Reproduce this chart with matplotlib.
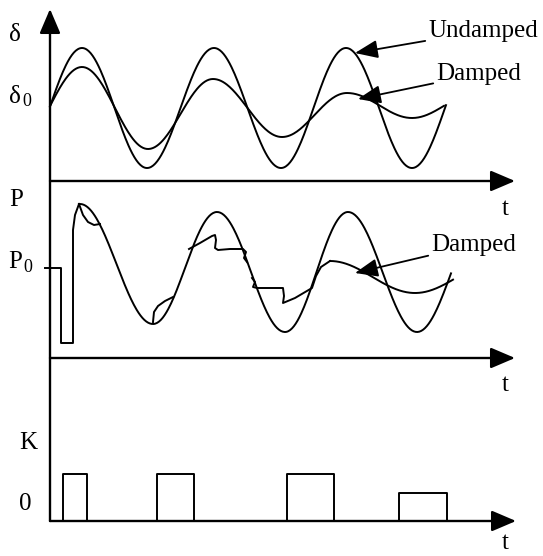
import numpy as np
import matplotlib
matplotlib.use("Agg")
import matplotlib.pyplot as plt

# schematic drawn in picture coordinates (x right, y down)
# extrema (x, y) of each oscillation; the curve is a half-cosine between neighbouring extrema
top_undamped_x = [82, 147, 214, 281, 346, 412]
top_undamped_y = [48, 168, 48, 168, 48, 168]
top_damped_x = [82, 148, 213, 282, 347, 412]
top_damped_y = [67, 149, 79, 137, 93, 118]
top_span = (50, 446)

mid_main_x = [80, 153, 217, 285, 348, 417]
mid_main_y = [204, 324, 212, 332, 212, 332]
mid_span = (80, 451)

# initial step of P (drop at the fault, jump after clearing)
step_x = [45, 61, 61, 73, 73, 75, 79]
step_y = [268, 268, 343, 343, 230, 215, 204]

# hand-drawn damped pieces of P
loop1_x = [79, 83, 88, 94, 100]
loop1_y = [204, 215, 222, 225, 224]
loop2_x = [153, 154, 158, 165, 173]
loop2_y = [322, 312, 306, 301, 297]
zig_x = [189, 200, 212, 215, 216, 215, 218, 230, 243, 246, 244, 247]
zig_y = [249, 243, 236, 235, 240, 248, 250, 249, 249, 252, 258, 262]
zig2_x = [252, 255, 253, 257, 270, 283, 284, 283, 295, 312, 316, 321, 330]
zig2_y = [278, 282, 287, 288, 288, 288, 296, 303, 298, 288, 276, 267, 261]
mid_damped_x = [330, 415]
mid_damped_y = [261, 293]
mid_damped_span = (330, 453)

# control pulses K
pulse_left = [63, 157, 287, 399]
pulse_right = [87, 194, 334, 447]
pulse_top = [474, 474, 474, 493]

axis_x = 50
axis_top = 9
baselines = [181, 358, 521]
arrow_end = [515, 515, 516]


def wave(xe, ye, x0, x1, n=400):
    xe = list(xe); ye = list(ye)
    # virtual extrema so the curve can start/end between extrema
    xe = [xe[0] - (xe[1] - xe[0])] + xe + [xe[-1] + (xe[-1] - xe[-2])]
    ye = [ye[1]] + ye + [ye[-2]]
    xs = np.linspace(x0, x1, n)
    ys = np.empty_like(xs)
    for k, x in enumerate(xs):
        i = np.searchsorted(xe, x) - 1
        i = min(max(i, 0), len(xe) - 2)
        t = (x - xe[i]) / (xe[i + 1] - xe[i])
        ys[k] = ye[i] + (ye[i + 1] - ye[i]) * (1 - np.cos(np.pi * t)) / 2
    return xs, ys


plt.rcParams['font.family'] = ['Liberation Serif', 'DejaVu Serif']
fig = plt.figure(figsize=(5.43, 5.56), dpi=100)
ax = fig.add_axes([0, 0, 1, 1])
ax.set_xlim(0, 543)
ax.set_ylim(556, 0)
ax.axis('off')

lw_ax = 1.7
lw = 1.4
akw = dict(arrowstyle='-|>,head_length=0.75,head_width=0.32', color='k', lw=lw_ax,
           mutation_scale=20, shrinkA=0, shrinkB=0)

# axes
ax.annotate('', xy=(axis_x, axis_top), xytext=(axis_x, baselines[-1]), arrowprops=akw)
for yb, xe in zip(baselines, arrow_end):
    ax.annotate('', xy=(xe, yb), xytext=(axis_x, yb), arrowprops=akw)

# top: rotor angle
x, y = wave(top_undamped_x, top_undamped_y, *top_span)
ax.plot(x, y, color='k', lw=lw)
x, y = wave(top_damped_x, top_damped_y, top_span[0], 444)
ax.plot(x, y, color='k', lw=lw)

# middle: power
ax.plot(step_x, step_y, color='k', lw=lw)
x, y = wave(mid_main_x, mid_main_y, *mid_span)
ax.plot(x, y, color='k', lw=lw)
for px, py in [(loop1_x, loop1_y), (loop2_x, loop2_y), (zig_x, zig_y), (zig2_x, zig2_y)]:
    ax.plot(px, py, color='k', lw=lw)
x, y = wave(mid_damped_x, mid_damped_y, *mid_damped_span)
ax.plot(x, y, color='k', lw=lw)

# bottom: pulses
for l, r, t in zip(pulse_left, pulse_right, pulse_top):
    ax.plot([l, l, r, r], [baselines[-1], t, t, baselines[-1]], color='k', lw=lw)

# labels
fs = 18
ax.text(15, 35, 'δ', fontsize=fs, ha='center', va='center')
ax.text(15, 97, 'δ', fontsize=fs, ha='center', va='center')
ax.text(22, 102, '0', fontsize=13, ha='left', va='center')
ax.text(16, 200, 'P', fontsize=fs, ha='center', va='center')
ax.text(15, 262, 'P', fontsize=fs, ha='center', va='center')
ax.text(23, 268, '0', fontsize=13, ha='left', va='center')
ax.text(28, 443, 'K', fontsize=fs, ha='center', va='center')
ax.text(25, 504, '0', fontsize=fs, ha='center', va='center')
for ty in [209, 385, 543]:
    ax.text(505, ty, 't', fontsize=fs, ha='center', va='center')

hkw = dict(arrowstyle='-|>,head_length=0.7,head_width=0.28', color='k', lw=1.3,
           mutation_scale=20, shrinkA=0, shrinkB=0)
ax.annotate('Undamped', xy=(355, 53), xytext=(428, 31), fontsize=fs,
            ha='left', va='center', arrowprops=hkw)
ax.annotate('Damped', xy=(358, 99), xytext=(436, 74), fontsize=fs,
            ha='left', va='center', arrowprops=hkw)
ax.annotate('Damped', xy=(355, 273), xytext=(431, 245), fontsize=fs,
            ha='left', va='center', arrowprops=hkw)

fig.savefig('out.png', dpi=100)
